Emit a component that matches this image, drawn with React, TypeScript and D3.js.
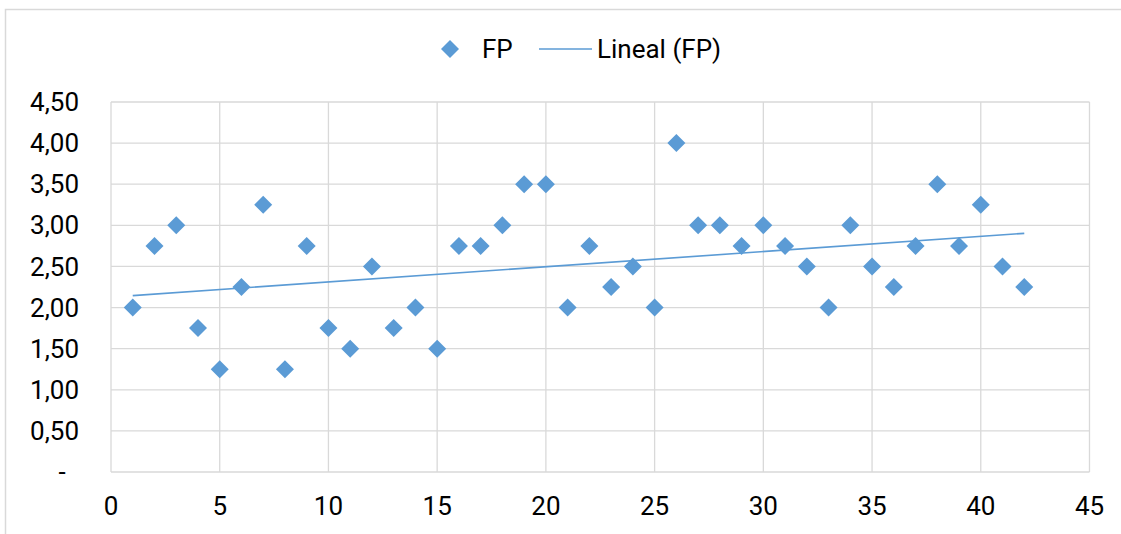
import React from "react";
import * as d3 from "d3";

const xValues = [1,2,3,4,5,6,7,8,9,10,11,12,13,14,15,16,17,18,19,20,21,22,23,24,25,26,27,28,29,30,31,32,33,34,35,36,37,38,39,40,41,42];
const fpValues = [2.0,2.75,3.0,1.75,1.25,2.25,3.25,1.25,2.75,1.75,1.5,2.5,1.75,2.0,1.5,2.75,2.75,3.0,3.5,3.5,2.0,2.75,2.25,2.5,2.0,4.0,3.0,3.0,2.75,3.0,2.75,2.5,2.0,3.0,2.5,2.25,2.75,3.5,2.75,3.25,2.5,2.25];
const xTicks = [0,5,10,15,20,25,30,35,40,45];
const yTicks = [0,0.5,1,1.5,2,2.5,3,3.5,4,4.5];

const COLOR = "#5b9bd5";
const GRID = "#d9d9d9";
const FONT = "Roboto, 'Noto Sans', sans-serif";
const FS = 26;

export default function App() {
  const W = 1121, H = 534;
  const left = 111, right = 1089.5, top = 102, bottom = 472;
  const x = d3.scaleLinear().domain([0, 45]).range([left, right]);
  const y = d3.scaleLinear().domain([0, 4.5]).range([bottom, top]);

  // linear regression (trendline)
  const n = xValues.length;
  const mx = d3.mean(xValues) as number;
  const my = d3.mean(fpValues) as number;
  let sxy = 0, sxx = 0;
  for (let i = 0; i < n; i++) {
    sxy += (xValues[i] - mx) * (fpValues[i] - my);
    sxx += (xValues[i] - mx) ** 2;
  }
  const slope = sxy / sxx;
  const intercept = my - slope * mx;
  const x0 = xValues[0], x1 = xValues[n - 1];
  const trend = d3.line<number>().x((d) => x(d)).y((d) => y(intercept + slope * d));

  const fmt = (v: number) => (v === 0 ? "-" : v.toFixed(2).replace(".", ","));
  const diamond = (cx: number, cy: number, r: number) =>
    `M${cx},${cy - r}L${cx + r},${cy}L${cx},${cy + r}L${cx - r},${cy}Z`;

  return (
    <svg width={W} height={H} style={{ position: "absolute", left: 0, top: 0, background: "#fff" }} fontFamily={FONT}>
      <rect x={5.5} y={9.5} width={1300} height={700} fill="#fff" stroke={GRID} strokeWidth={1.5} />
      {yTicks.map((t) => (
        <line key={"gy" + t} x1={left} x2={right} y1={y(t)} y2={y(t)} stroke={GRID} strokeWidth={1.3} />
      ))}
      {xTicks.map((t) => (
        <line key={"gx" + t} x1={x(t)} x2={x(t)} y1={top} y2={bottom} stroke={GRID} strokeWidth={1.3} />
      ))}
      {yTicks.map((t) => (
        <text
          key={"ty" + t}
          x={t === 0 ? 62 : 79}
          y={y(t)}
          dy="0.35em"
          textAnchor={t === 0 ? "middle" : "end"}
          fontSize={FS}
          fill="#000"
        >
          {fmt(t)}
        </text>
      ))}
      {xTicks.map((t) => (
        <text key={"tx" + t} x={x(t)} y={515} textAnchor="middle" fontSize={FS} fill="#000">
          {t}
        </text>
      ))}
      <path d={trend([x0, x1]) as string} stroke={COLOR} strokeWidth={1.6} fill="none" />
      {xValues.map((xv, i) => (
        <path key={"p" + i} d={diamond(x(xv), y(fpValues[i]), 9)} fill={COLOR} />
      ))}
      <g>
        <path d={diamond(450, 49, 9)} fill={COLOR} />
        <text x={482} y={58} fontSize={FS} fill="#000">FP</text>
        <line x1={539} x2={592} y1={49} y2={49} stroke={COLOR} strokeWidth={1.6} />
        <text x={597} y={58} fontSize={FS} fill="#000">Lineal (FP)</text>
      </g>
    </svg>
  );
}
